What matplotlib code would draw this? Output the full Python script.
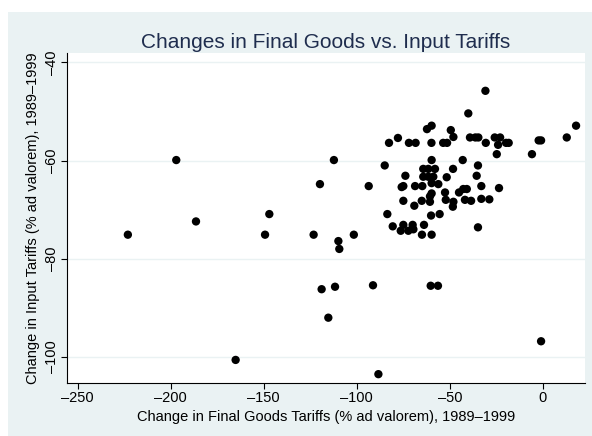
import matplotlib.pyplot as plt
from matplotlib.patches import Rectangle
from matplotlib.ticker import FuncFormatter

plt.rcParams["font.family"] = ["Liberation Sans", "DejaVu Sans"]

# change in final goods tariffs vs. change in input tariffs, 1989-1999
final_goods = [
    -223.0, -197.0, -186.4, -149.3, -147.0, -123.2, -119.8, -118.9, -115.3, -112.3,
    -111.7, -109.9, -109.4, -101.6, -165.1, -93.6, -91.3, -88.4, -60.3, -56.4,
    -1.0, -85.0,
    -30.9, -40.1, -62.3, -59.8, -49.5, -48.1, -77.9, -82.7, -72.0, -68.4,
    -59.9, -53.6, -51.5, -39.2, -36.3, -34.7, -30.7, -25.9, -23.0, -24.1,
    -19.8, -18.4, -24.8, -5.9, -2.3, -1.0, 12.8, 17.8, -43.1, -34.9, -35.6,
    -59.8, -64.3, -61.6, -58.0, -64.3, -61.6, -58.9, -59.8, -56.2, -51.7,
    -48.3, -73.9, -75.9, -75.0, -68.7, -64.8, -59.8, -52.6, -45.1, -42.8,
    -40.9, -33.1, -23.6, -75.0, -69.1, -65.1, -60.7, -52.2, -48.1, -48.4,
    -41.9, -38.6, -33.1, -28.8, -83.6, -60.1, -55.5, -80.7, -76.4, -75.0,
    -72.3, -70.0, -69.6, -63.9, -65.0, -59.8, -34.9, -60.7,
]
input_tariffs = [
    -75.1, -59.9, -72.4, -75.1, -70.9, -75.1, -64.8, -86.2, -92.0, -59.9,
    -85.7, -76.4, -78.0, -75.1, -100.6, -65.2, -85.4, -103.5, -85.5, -85.5,
    -96.8, -61.0,
    -45.8, -50.4, -53.6, -52.9, -53.8, -55.2, -55.4, -56.4, -56.4, -56.4,
    -56.4, -56.4, -56.4, -55.3, -55.3, -55.3, -56.4, -55.3, -55.3, -56.8,
    -56.4, -56.4, -58.7, -58.7, -55.9, -55.9, -55.3, -52.9, -59.9, -61.0, -63.1,
    -59.9, -61.7, -61.7, -61.7, -63.3, -63.3, -63.3, -64.6, -64.8, -63.4,
    -61.7, -63.1, -65.4, -65.2, -65.2, -65.2, -66.7, -66.5, -66.5, -65.8,
    -65.8, -65.2, -65.6, -68.2, -69.2, -68.2, -68.4, -68.0, -68.4, -69.4,
    -68.0, -68.2, -67.8, -67.9, -70.9, -71.2, -70.9, -73.4, -74.3, -73.1,
    -74.3, -73.1, -74.0, -73.1, -75.1, -75.1, -73.6, -67.3,
]

x_ticks = [-250, -200, -150, -100, -50, 0]
y_ticks = [-100, -80, -60, -40]

bg = "#EAF2F3"
navy = "#1F2D4E"

fig = plt.figure(figsize=(5.92, 4.36), dpi=100, facecolor="white")
fig.patches.append(Rectangle((8 / 592, 0), 1, 1 - 12 / 436, transform=fig.transFigure,
                             facecolor=bg, edgecolor="none", zorder=-10))

ax = fig.add_axes([67 / 592, 1 - 383 / 436, 518 / 592, 330 / 436])
ax.set_zorder(1)
ax.set_facecolor("white")
ax.scatter(final_goods, input_tariffs, s=36, color="black", edgecolors="none", zorder=3)

ax.set_xlim(-255.7, 22.6)
ax.set_ylim(-105.3, -38.1)
ax.set_xticks(x_ticks)
ax.set_yticks(y_ticks)
dash = FuncFormatter(lambda v, p: f"{v:.0f}".replace("-", "\u2013"))
ax.xaxis.set_major_formatter(dash)
ax.yaxis.set_major_formatter(dash)
ax.grid(axis="y", color=bg, linewidth=1.0, zorder=1)
ax.grid(axis="x", visible=False)

for side in ["top", "right"]:
    ax.spines[side].set_visible(False)
for side in ["left", "bottom"]:
    ax.spines[side].set_linewidth(0.8)
ax.tick_params(direction="out", length=4, width=0.8, labelsize=10.5, pad=2)
for lab in ax.get_yticklabels():
    lab.set_rotation(90)
    lab.set_va("center")

ax.set_xlabel("Change in Final Goods Tariffs (% ad valorem), 1989\u20131999",
              fontsize=10.5, labelpad=3)
ax.set_ylabel("Change in Input Tariffs (% ad valorem), 1989\u20131999",
              fontsize=10.5, labelpad=3)

fig.text(326 / 592, 1 - 43 / 436, "Changes in Final Goods vs. Input Tariffs",
         ha="center", va="center", fontsize=15, color=navy)

fig.savefig("out.png", dpi=100, facecolor=fig.get_facecolor())
